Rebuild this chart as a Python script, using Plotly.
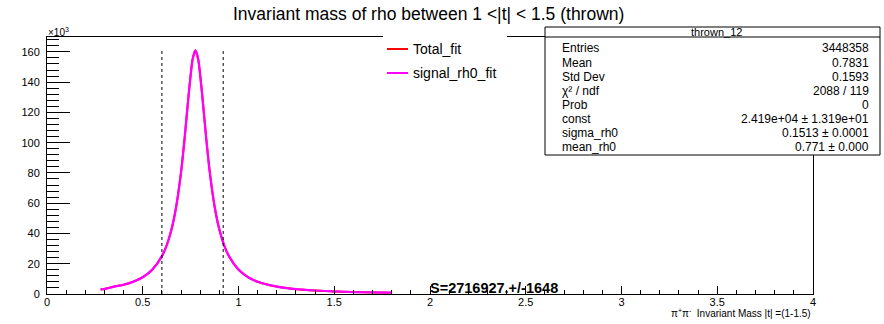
import plotly.graph_objects as go

# ---- data (y in units of 10^3 entries) ----
mass_x = [0.28, 0.30, 0.35, 0.40, 0.45, 0.50, 0.55, 0.60, 0.625, 0.65, 0.675, 0.70,
          0.72, 0.74, 0.76, 0.775, 0.79, 0.81, 0.83, 0.85, 0.875, 0.90, 0.925, 0.95,
          1.00, 1.05, 1.10, 1.20, 1.30, 1.40, 1.50, 1.60, 1.70, 1.80]
fit_y = [3.0, 3.3, 4.9, 6.1, 8.1, 11.1, 16.1, 25.0, 32.2, 42.6, 58.0, 80.5,
         104.7, 132.0, 154.8, 161.0, 154.8, 132.0, 104.7, 80.5, 58.0, 42.6, 32.2, 25.0,
         16.1, 11.1, 8.1, 4.9, 3.2, 2.3, 1.7, 1.3, 1.05, 0.86]
window_lines = [0.6, 0.92]

title_text = "Invariant mass of rho between 1 &lt;|t| &lt; 1.5 (thrown)"
x_title = "π<sup>+</sup>π<sup>-</sup>  Invariant Mass |t| =(1-1.5)"
legend_names = ["Total_fit", "signal_rh0_fit"]
legend_colors = ["#ff0000", "#ff00ff"]
stats_title = "thrown_12"
stats_labels = ["Entries", "Mean", "Std Dev", "χ² / ndf", "Prob", "const", "sigma_rh0", "mean_rh0"]
stats_values = ["3448358", "0.7831", "0.1593", "2088 / 119", "0", "2.419e+04 ± 1.319e+01", "0.1513 ± 0.0001", "0.771 ± 0.000"]
signal_text = "S=2716927.+/-1648"

W, H = 884, 324
L, R, T, B = 47, 813, 37, 294
FONT = "Liberation Sans, Arial, Helvetica, sans-serif"


def px(x):
    return (x - L) / (R - L)


def py(y):
    return (B - y) / (B - T)


fig = go.Figure()
fig.add_trace(go.Scatter(x=mass_x, y=fit_y, mode="lines",
                         line=dict(color="#ff0000", width=2, shape="spline", smoothing=0.6),
                         showlegend=False))
fig.add_trace(go.Scatter(x=mass_x, y=fit_y, mode="lines",
                         line=dict(color="#ff00ff", width=2.2, shape="spline", smoothing=0.6),
                         showlegend=False))

shapes = []
for xv in window_lines:
    shapes.append(dict(type="line", xref="x", yref="y", x0=xv, x1=xv, y0=0, y1=160.5,
                       line=dict(color="black", width=1, dash="3px,3px")))

# legend box (white, covers frame)
shapes.append(dict(type="rect", xref="paper", yref="paper", x0=px(383), x1=px(507),
                   y0=py(88), y1=py(28), fillcolor="white", line=dict(width=0)))
annotations = []
for i, (nm, col) in enumerate(zip(legend_names, legend_colors)):
    yy = 49 + 24 * i
    shapes.append(dict(type="line", xref="paper", yref="paper", x0=px(387), x1=px(408),
                       y0=py(yy), y1=py(yy), line=dict(color=col, width=2)))
    annotations.append(dict(text=nm, xref="paper", yref="paper", x=px(411), y=py(yy),
                            xanchor="left", yanchor="middle", showarrow=False,
                            font=dict(family=FONT, size=14, color="black")))

# stats box
shapes.append(dict(type="rect", xref="paper", yref="paper", x0=px(545), x1=px(880),
                   y0=py(155), y1=py(27), fillcolor="white",
                   line=dict(color="black", width=1)))
shapes.append(dict(type="line", xref="paper", yref="paper", x0=px(545), x1=px(880),
                   y0=py(37), y1=py(37), line=dict(color="black", width=1)))
annotations.append(dict(text=stats_title, xref="paper", yref="paper", x=px(716.5), y=py(31.5),
                        xanchor="center", yanchor="middle", showarrow=False,
                        font=dict(family=FONT, size=11, color="black")))
for i, (lab, val) in enumerate(zip(stats_labels, stats_values)):
    yy = 48.5 + 14.1 * i
    annotations.append(dict(text=lab, xref="paper", yref="paper", x=px(560), y=py(yy),
                            xanchor="left", yanchor="middle", showarrow=False,
                            font=dict(family=FONT, size=12, color="black")))
    annotations.append(dict(text=val, xref="paper", yref="paper", x=px(871), y=py(yy),
                            xanchor="right", yanchor="middle", showarrow=False,
                            font=dict(family=FONT, size=12, color="black")))

# title
annotations.append(dict(text=title_text, xref="paper", yref="paper", x=px(428.5), y=py(14),
                        xanchor="center", yanchor="middle", showarrow=False,
                        font=dict(family=FONT, size=17.5, color="black")))
# exponent label
annotations.append(dict(text="×10<sup>3</sup>", xref="paper", yref="paper", x=px(46), y=py(32),
                        xanchor="left", yanchor="middle", showarrow=False,
                        font=dict(family=FONT, size=10, color="black")))
# signal text
annotations.append(dict(text="<b>" + signal_text + "</b>", xref="paper", yref="paper",
                        x=px(428), y=py(288), xanchor="left", yanchor="middle", showarrow=False,
                        font=dict(family=FONT, size=14.5, color="black")))
# x axis title
annotations.append(dict(text=x_title, xref="paper", yref="paper", x=px(813), y=py(313),
                        xanchor="right", yanchor="middle", showarrow=False,
                        font=dict(family=FONT, size=10, color="black")))

fig.update_layout(
    width=W, height=H,
    margin=dict(l=L, r=W - R, t=T, b=H - B, pad=0),
    paper_bgcolor="white", plot_bgcolor="white",
    showlegend=False,
    shapes=shapes, annotations=annotations,
    xaxis=dict(range=[0, 4], showgrid=False, zeroline=False,
               showline=True, linecolor="black", linewidth=1, mirror=True,
               ticks="inside", ticklen=8, tickcolor="black", tickwidth=1,
               tickmode="linear", tick0=0, dtick=0.5,
               minor=dict(ticks="inside", ticklen=4, tickcolor="black", tickmode="linear",
                          tick0=0, dtick=0.1, showgrid=False),
               tickfont=dict(family=FONT, size=11, color="black"), ticklabelstandoff=-2),
    yaxis=dict(range=[0, 169.8], showgrid=False, zeroline=False,
               showline=True, linecolor="black", linewidth=1, mirror=True,
               ticks="inside", ticklen=23, tickcolor="black", tickwidth=1,
               tickmode="linear", tick0=0, dtick=20,
               minor=dict(ticks="inside", ticklen=12, tickcolor="black", tickmode="linear",
                          tick0=0, dtick=4, showgrid=False),
               tickfont=dict(family=FONT, size=11, color="black"), ticklabelstandoff=4),
)

fig.write_html("out.html")
